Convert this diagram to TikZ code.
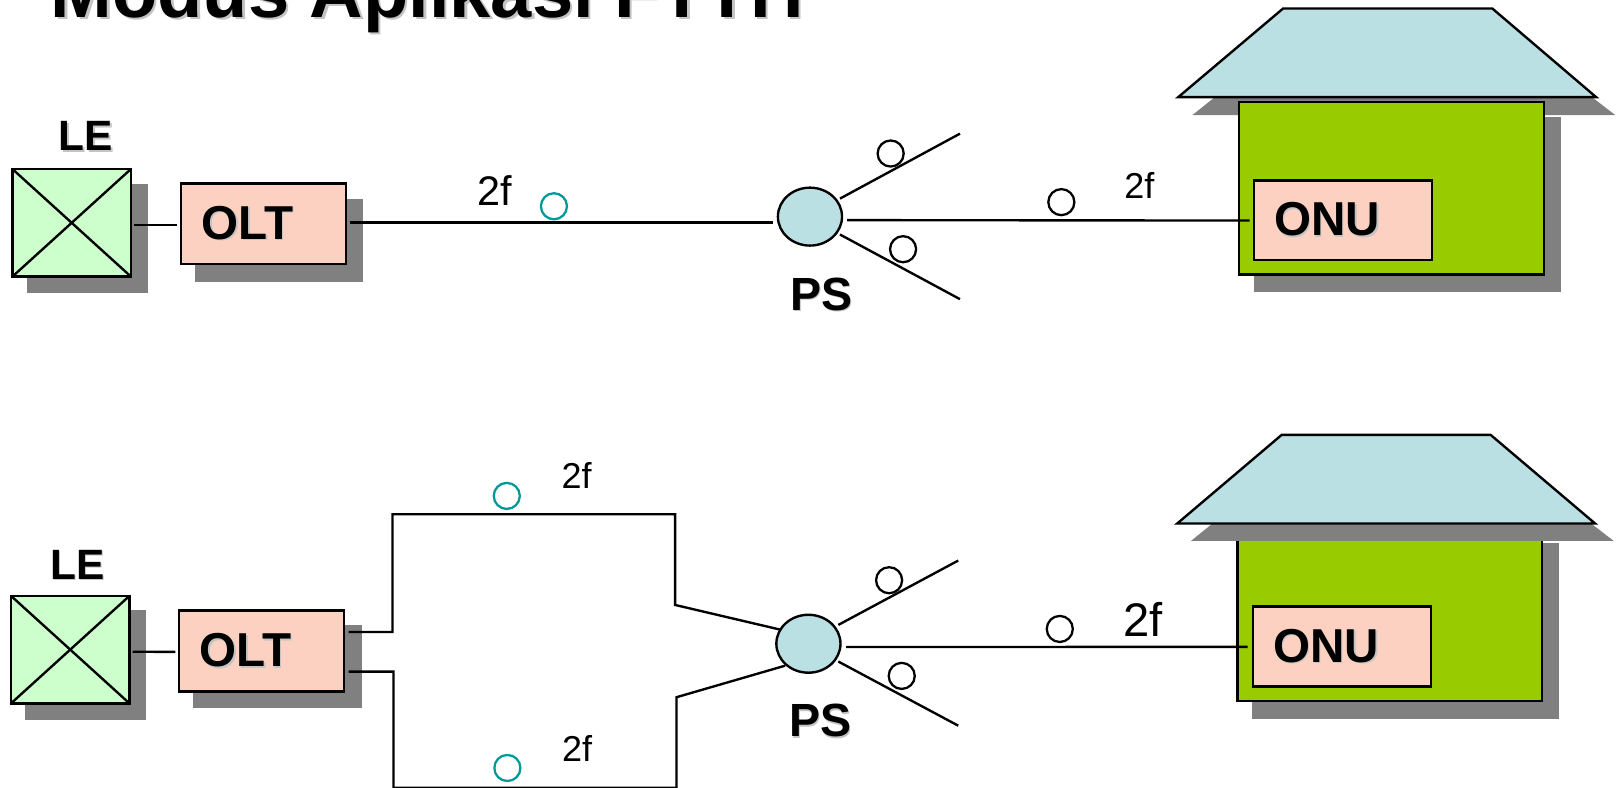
\documentclass[tikz,border=0pt]{standalone}
\usepackage{fontspec}
\setmainfont{Liberation Sans}
\usetikzlibrary{calc,shapes.geometric}
\definecolor{shadowgray}{HTML}{808080}
\definecolor{softshadow}{HTML}{C4C4C4}
\definecolor{legreen}{HTML}{CCFFCC}
\definecolor{boxpink}{HTML}{FCD1C2}
\definecolor{rooflight}{HTML}{BAE0E3}
\definecolor{housegreen}{HTML}{99CC00}
\definecolor{tealring}{HTML}{009999}
\newcommand{\shtext}[3]{{\fontsize{#1}{#1}\selectfont\bfseries\rlap{\kern#2\raisebox{-#2}{\textcolor{softshadow}{#3}}}#3}}
\tikzset{
  x=0.5pt,y=-0.5pt,
  wire/.style={line width=1.15pt,draw=black},
  shadowfill/.style={fill=shadowgray,draw=none},
  lebox/.style={draw=black,line width=1.15pt,fill=legreen,rectangle,inner sep=0pt,outer sep=0pt,anchor=north west,minimum width=57.3pt,minimum height=52pt},
  textbox/.style={draw=black,line width=1.15pt,fill=boxpink,rectangle,inner ysep=0pt,inner xsep=10pt,outer sep=0pt,anchor=north west,align=left},
  oltbox/.style={textbox,text width=59.7pt,minimum height=39pt},
  onubox/.style={textbox,text width=66.3pt,minimum height=38.6pt},
  psnode/.style={draw=black,line width=1.15pt,fill=rooflight,ellipse,inner sep=0pt,outer sep=0pt,minimum width=31pt,minimum height=28pt},
  bodybox/.style={draw=black,line width=1.15pt,fill=housegreen,rectangle,inner sep=0pt,outer sep=0pt,anchor=north west},
  ring/.style={circle,draw=black,line width=1.1pt,inner sep=0pt,minimum size=12.6pt},
  tealr/.style={ring,draw=tealring},
  lab/.style={inner sep=0pt,outer sep=0pt},
  roofline/.style={draw=black,line width=1.15pt,fill=rooflight,line join=miter}
}
\begin{document}
\begin{tikzpicture}
\useasboundingbox (0,0) rectangle (1568,760.8);
\begin{scope}
\clip (0,0) rectangle (1568,760.8);
\begin{scope}[yshift=-0.2pt]
\node[lab,anchor=base west] (title) at (49,16.5) {\shtext{35.8pt}{1.2pt}{Modus Aplikasi FTTH}};
% ---------- upper row
\fill[shadowfill] (26,177) rectangle (143.5,283);
\fill[shadowfill] (188.5,192) rectangle (351,272);
\node[lebox] (le1) at (12,163) {};
\draw[line width=1.15pt] (le1.north west) -- (le1.south east) (le1.north east) -- (le1.south west);
\node[oltbox] (olt1) at (175,177) {\raisebox{-.9pt}{\shtext{23pt}{.7pt}{OLT}}};
\node[lab] (lelab1) at (83,132) {\shtext{20.5pt}{.7pt}{LE}};
\node[psnode] (ps1) at (783,209) {};
\node[lab] (pslab1) at (794,284.5) {\shtext{22.5pt}{.7pt}{PS}};
\fill[shadowfill] (1212.4,112.5) rectangle (1509,282);
\fill[shadowfill] (1254,30) -- (1456,30) -- (1561.6,110.9) -- (1152.6,110.9) -- cycle;
\node[bodybox,minimum width=147.2pt,minimum height=83.4pt] (body1) at (1198,98.3) {};
\draw[roofline] (1240.4,7.8) -- (1442.6,7.8) -- (1543,93.5) -- (1139,93.5) -- cycle;
\node[onubox] (onu1) at (1212,174) {\raisebox{-.9pt}{\shtext{23pt}{.7pt}{ONU}}};
\coordinate (up1) at (928,128.8);
\coordinate (dn1) at (928,288.8);
\draw[wire] ($(le1.east)+(3,2)$) -- ($(olt1.west)+(-4,1)$);
\draw[wire] ($(olt1.east)+(4,-1.4)$) -- ($(ps1.west)+(-5,5.6)$);
\draw[wire] ($(ps1.east)+(5,3.4)$) -- ($(onu1.west)+(-4,0.2)$);
\draw[wire] ($(ps1.center)+(29,-17.4)$) -- (up1);
\draw[wire] ($(ps1.center)+(29,17.3)$) -- (dn1);
\node[tealr] (t1) at (535.5,199) {};
\node[ring] (c1) at (861,148) {};
\node[ring] (c2) at (873,240.5) {};
\node[ring] (c3) at (1026,195) {};
\node[lab] (f1) at (478,183.5) {\fontsize{20pt}{20pt}\selectfont 2f};
\node[lab] (f2) at (1101.5,179) {\fontsize{17.4pt}{17.4pt}\selectfont 2f};
\end{scope}
% ---------- lower row
\begin{scope}[yshift=-0.75pt]
\fill[shadowfill] (24.6,588) rectangle (140.7,694.4);
\fill[shadowfill] (187,603) rectangle (349.6,683.2);
\node[lebox] (le2) at (10.6,574.5) {};
\draw[line width=1.15pt] (le2.north west) -- (le2.south east) (le2.north east) -- (le2.south west);
\node[oltbox] (olt2) at (173,588.8) {\raisebox{-.5pt}{\shtext{23pt}{.7pt}{OLT}}};
\node[lab] (lelab2) at (75,545) {\shtext{20.5pt}{.7pt}{LE}};
\node[psnode] (ps2) at (781.5,620.8) {};
\node[lab] (pslab2) at (793,696) {\shtext{22.5pt}{.7pt}{PS}};
\fill[shadowfill] (1210.5,523.3) rectangle (1507,693.4);
\node[bodybox,minimum width=147.2pt,minimum height=83pt] (body2) at (1196.4,510) {};
\fill[shadowfill] (1252,440) -- (1454,440) -- (1560,521.4) -- (1151.3,521.4) -- cycle;
\draw[roofline] (1239,418.9) -- (1441,418.9) -- (1542,504.6) -- (1138,504.6) -- cycle;
\node[onubox] (onu2) at (1211,584.9) {\raisebox{-.5pt}{\shtext{23pt}{.7pt}{ONU}}};
\coordinate (up2) at (926.3,540.4);
\coordinate (dn2) at (926.3,700);
\draw[wire] ($(le2.east)+(3,2)$) -- ($(olt2.west)+(-3.4,0.9)$);
\draw[wire,line join=miter] ($(olt2.east)+(4.7,-18.4)$) -| (379.4,495.6) -- (652.6,495.6) -- (652.6,583.3) -- ($(ps2.center)+(-27.5,-13.7)$);
\draw[wire,line join=miter] ($(olt2.east)+(4.7,20)$) -| (380.4,760) -- (654,760) -- (654,672.5) -- ($(ps2.center)+(-22.5,21.2)$);
\draw[wire] ($(ps2.east)+(5.5,3.2)$) -- ($(onu2.west)+(-5,0.3)$);
\draw[wire] ($(ps2.center)+(28.9,-18.2)$) -- (up2);
\draw[wire] ($(ps2.center)+(28.9,17.2)$) -- (dn2);
\node[tealr] (t2) at (489.9,477.9) {};
\node[tealr] (t3) at (490.5,740.9) {};
\node[ring] (c4) at (859.5,559.4) {};
\node[ring] (c5) at (871.7,651.9) {};
\node[ring] (c6) at (1024.5,606.5) {};
\node[lab] (f3) at (557.5,458) {\fontsize{17.4pt}{17.4pt}\selectfont 2f};
\node[lab] (f4) at (558,722) {\fontsize{17.4pt}{17.4pt}\selectfont 2f};
\node[lab] (f5) at (1105,597) {\fontsize{22.8pt}{22.8pt}\selectfont 2f};
\end{scope}
\end{scope}
\end{tikzpicture}
\end{document}
